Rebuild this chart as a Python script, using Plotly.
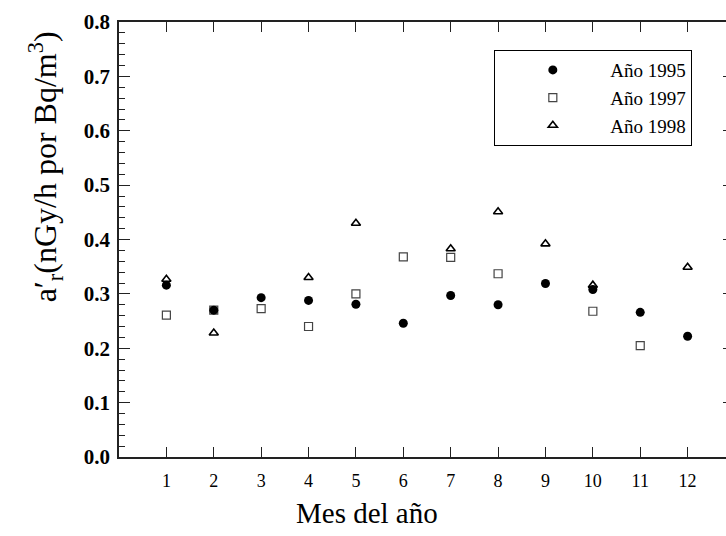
import plotly.graph_objects as go

months = list(range(1, 13))
y1995 = [0.316, 0.270, 0.293, 0.288, 0.281, 0.246, 0.297, 0.280, 0.319, 0.308, 0.266, 0.222]
y1997 = [0.261, 0.270, 0.273, 0.240, 0.300, 0.368, 0.367, 0.337, None, 0.268, 0.205, None]
y1998 = [0.327, 0.228, None, 0.330, 0.430, None, 0.383, 0.451, 0.392, 0.316, None, 0.349]
names = ["Año 1995", "Año 1997", "Año 1998"]
ytickvals = [0.0, 0.1, 0.2, 0.3, 0.4, 0.5, 0.6, 0.7, 0.8]
xtickvals = months

SERIF = "Liberation Serif"

fig = go.Figure()
fig.add_trace(go.Scatter(x=months, y=y1997, mode="markers", name=names[1], legendrank=2,
                         marker=dict(symbol="square-open", size=8, color="#444",
                                     line=dict(width=1.2, color="#444"))))
fig.add_trace(go.Scatter(x=months, y=y1998, mode="markers", name=names[2], legendrank=3,
                         marker=dict(symbol="triangle-up-open", size=8, color="black",
                                     line=dict(width=1.6, color="black"))))
fig.add_trace(go.Scatter(x=months, y=y1995, mode="markers", name=names[0], legendrank=1,
                         marker=dict(symbol="circle", size=9, color="black")))
# invisible trace on right axis for right-side tick stubs
fig.add_trace(go.Scatter(x=[None], y=[None], yaxis="y2", showlegend=False, hoverinfo="skip"))

fig.update_layout(
    width=726, height=536,
    margin=dict(l=119, r=0, t=22, b=79),
    paper_bgcolor="white", plot_bgcolor="white",
    font=dict(family=SERIF, color="black"),
    showlegend=True,
    legend=dict(x=0.618, y=0.936, xanchor="left", yanchor="top",
                bgcolor="white", bordercolor="black", borderwidth=1.2,
                font=dict(family=SERIF, size=19, color="black"),
                itemwidth=105, tracegroupgap=0),
    xaxis=dict(range=[0, 12.81], tickvals=xtickvals, ticks="inside", ticklen=10,
               tickwidth=1.2, tickcolor="#222", showline=True, linecolor="#222",
               linewidth=1.5, mirror="ticks", showgrid=False, zeroline=False,
               ticklabelstandoff=7,
               tickfont=dict(family=SERIF, size=18, color="black")),
    yaxis=dict(range=[0, 0.8], tickvals=ytickvals, tickformat=".1f", ticks="inside",
               ticklen=11, tickwidth=1.2, tickcolor="#222", showline=True,
               linecolor="#222", linewidth=1.5, showgrid=False, zeroline=False,
               ticklabelstandoff=3,
               tickfont=dict(family=SERIF, size=21, color="black", weight="bold"),
               minor=dict(dtick=0.02, ticks="inside", ticklen=6, tickwidth=1, tickcolor="#222")),
    yaxis2=dict(range=[0, 0.8], overlaying="y", side="right", tickvals=ytickvals,
                ticks="inside", ticklen=3, tickwidth=1.2, tickcolor="#222",
                showticklabels=False, showline=False, showgrid=False, zeroline=False),
    annotations=[
        dict(text="Mes del año", xref="paper", yref="paper", x=0.4086, y=-0.129,
             xanchor="center", yanchor="middle", showarrow=False,
             font=dict(family=SERIF, size=29, color="black")),
        dict(text="a′<sub>r</sub>(nGy/h por Bq/m<sup>3</sup>)", xref="paper", yref="paper",
             x=-0.122, y=0.668, xanchor="center", yanchor="middle", textangle=-90,
             showarrow=False, font=dict(family=SERIF, size=32, color="black")),
    ],
)

fig.write_html("out.html")
